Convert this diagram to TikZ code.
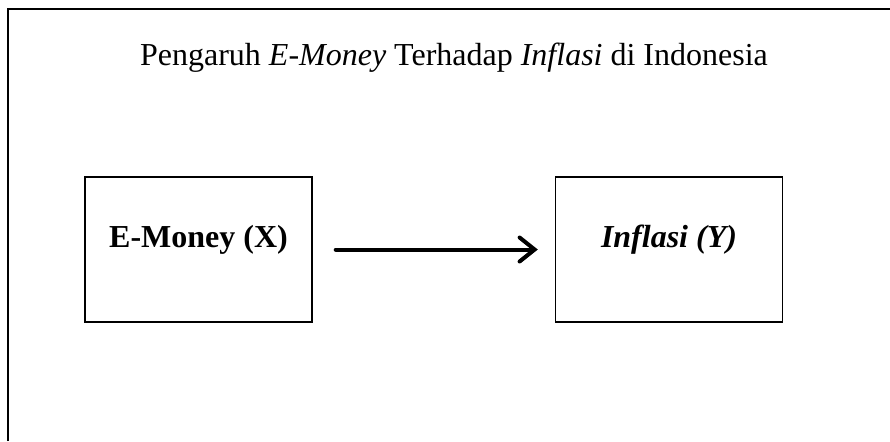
\documentclass[tikz,border=0pt]{standalone}
\usepackage{fontspec}
\setmainfont{Liberation Serif}
\usetikzlibrary{arrows.meta, positioning}

\begin{document}
\begin{tikzpicture}[x=0.5pt, y=-0.5pt,
    varbox/.style={draw, line width=0.7pt, minimum width=113.5pt, minimum height=72.5pt,
        font=\fontsize{16}{19}\selectfont\bfseries, text height=8pt, text depth=10.5pt},
    causal/.style={line width=2pt, line cap=round, -{Straight Barb[length=7.5pt, width=12pt, line cap=round]}}]
\useasboundingbox (0,0) rectangle (890,441);
% open frame (right and bottom sides fall off the page)
\draw[line width=0.8pt] (8,441) -- (8,9) -- (890,9);
% title
\node[anchor=base, font=\fontsize{16}{19}\selectfont] (judul) at (454,65)
    {Pengaruh \textit{E-Money} Terhadap \textit{Inflasi} di Indonesia};
% variables
\node[varbox] (emoney) at (198.5,249.5) {E-Money (X)};
\node[varbox] (inflasi) at (669,249.5) {\textit{Inflasi (Y)}};
% effect of X on Y
\draw[causal, shorten <=11.5pt, shorten >=8.5pt] (emoney) -- (inflasi);
\end{tikzpicture}
\end{document}
